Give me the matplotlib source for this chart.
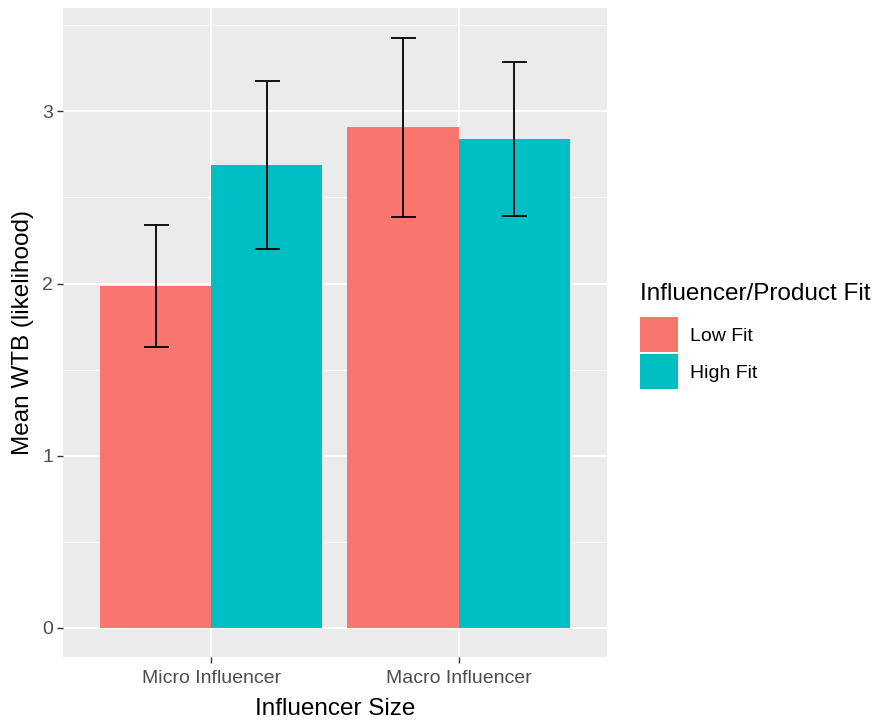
import matplotlib
matplotlib.use("Agg")
import matplotlib.pyplot as plt
from matplotlib.patches import Patch
import numpy as np

plt.rcParams['font.family'] = ['Liberation Sans', 'DejaVu Sans']

# Data
categories = ["Micro Influencer", "Macro Influencer"]
groups = ["Low Fit", "High Fit"]
low_fit_mean = [1.987, 2.909]
high_fit_mean = [2.689, 2.842]
low_fit_err = [0.354, 0.520]
high_fit_err = [0.490, 0.447]
y_ticks = [0, 1, 2, 3]

colors = ["#F8766D", "#00BFC4"]

fig = plt.figure(figsize=(8.75, 7.23), dpi=100)
ax = fig.add_axes([0.0717, 0.0909, 0.6220, 0.8980])
ax.set_facecolor("#EBEBEB")

x = np.arange(1, len(categories) + 1)
dodge = 0.9
bw = dodge / 2
means = [low_fit_mean, high_fit_mean]
errs = [low_fit_err, high_fit_err]
for i, (m, e, c) in enumerate(zip(means, errs, colors)):
    pos = x - dodge / 2 + bw * (i + 0.5)
    ax.bar(pos, m, width=bw, color=c, zorder=3)
    ax.errorbar(pos, m, yerr=e, fmt="none", ecolor="black", elinewidth=1.3,
                capsize=9, capthick=1.3, zorder=4)

# ggplot-like expansion
top = max(max(np.add(low_fit_mean, low_fit_err)), max(np.add(high_fit_mean, high_fit_err)))
pad = 0.05 * top
ax.set_ylim(-pad, top + pad)
ax.set_xlim(0.4, len(categories) + 0.6)

ax.set_yticks(y_ticks)
ax.set_yticklabels([str(t) for t in y_ticks])
ax.set_yticks([0.5, 1.5, 2.5, 3.5], minor=True)
ax.set_xticks(x)
ax.set_xticklabels(categories)

ax.grid(which="major", color="white", linewidth=1.4, zorder=0)
ax.grid(which="minor", axis="y", color="white", linewidth=0.6, zorder=0)
ax.set_axisbelow(True)
for s in ax.spines.values():
    s.set_visible(False)

ax.tick_params(axis="both", which="major", length=4, width=1, color="#333333",
               labelcolor="#4D4D4D", labelsize=14, pad=3)
ax.tick_params(axis="x", which="major", pad=5)
ax.tick_params(axis="both", which="minor", length=0)

ax.set_xlabel("Influencer Size", fontsize=17.5, color="black", labelpad=8)
ax.set_ylabel("Mean WTB (likelihood)", fontsize=17.5, color="black", labelpad=6)

handles = [Patch(facecolor=c, edgecolor="none") for c in colors]
leg = fig.legend(handles, groups, title="Influencer/Product Fit",
                 loc="upper left", bbox_to_anchor=(0.731, 0.609),
                 frameon=False, fontsize=14, title_fontsize=17.5,
                 handlelength=1.95, handleheight=2.4, handletextpad=0.65,
                 labelspacing=0.1, borderaxespad=0, borderpad=0)
leg._legend_box.align = "left"
leg._legend_box.sep = 9

fig.savefig("out.png", dpi=100, facecolor="white")
